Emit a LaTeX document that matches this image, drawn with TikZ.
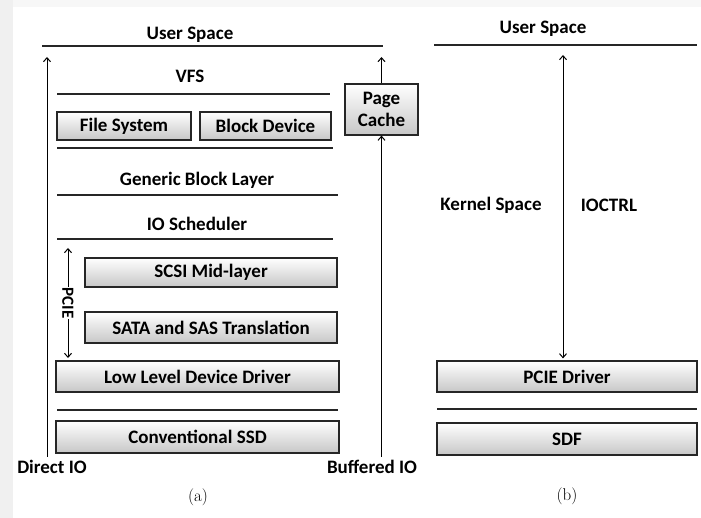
\documentclass[tikz,border=0pt]{standalone}
\usepackage{fontspec}
\setsansfont{Carlito}
\usetikzlibrary{arrows.meta,positioning}

\begin{document}
\begin{tikzpicture}[
  x=1pt,y=-1pt,
  font=\sffamily\bfseries\fontsize{19}{22}\selectfont,
  layer/.style={draw=black!85,line width=1.2pt,top color=white,bottom color=black!22,minimum height=30pt,inner sep=0pt,align=center},
  sep/.style={line width=1.2pt,draw=black!85},
  flow/.style={line width=1pt,-{Straight Barb[length=4pt,width=7pt]}},
  both/.style={line width=1pt,{Straight Barb[length=4pt,width=7pt]}-{Straight Barb[length=4pt,width=7pt]}},
  caption/.style={font=\rmfamily\fontsize{17}{20}\selectfont}
]
  \useasboundingbox (0,0) rectangle (701,518);
  \fill[black!6] (0,0) rectangle (13,518);
  \fill[black!3] (13,0) rectangle (701,7);

  % (a) conventional stack
  \node (usrA) at (190,35) {User Space};
  \draw[sep] (42,46) -- (383,46);
  \node (vfs) at (190,76) {VFS};
  \draw[sep] (57,94) -- (330,94);
  \node[layer,minimum width=134pt,minimum height=28pt] (fs) at (124,126) {File System};
  \node[layer,minimum width=131pt,minimum height=28pt] (bd) at (265.5,126) {Block Device};
  \node[layer,minimum width=73pt,minimum height=51pt] (pc) at (381.5,109.5) {Page\\Cache};
  \draw[sep] (57,148) -- (333,148);
  \node (gbl) at (197,180) {Generic Block Layer};
  \draw[sep] (57,195) -- (338,195);
  \node (ios) at (197,224) {IO Scheduler};
  \draw[sep] (57,239) -- (333,239);
  \node[layer,minimum width=252pt,minimum height=29pt] (scsi) at (211,272.5) {SCSI Mid-layer};
  \node[layer,minimum width=252pt,minimum height=31pt] (sata) at (211,327.5) {SATA and SAS Translation};
  \node[layer,minimum width=283pt,minimum height=31pt] (lldd) at (197.5,376.5) {Low Level Device Driver};
  \draw[sep] (57,410) -- (338,410);
  \node[layer,minimum width=283pt,minimum height=32pt] (ssd) at (197.5,437) {Conventional SSD};
  \node (dio) at (52,467) {Direct IO};
  \node (bio) at (372,467) {Buffered IO};
  \node[caption] (capA) at (198,497) {(a)};

  \coordinate (tipD) at (47,57);
  \coordinate (tipB) at (383,57);
  \coordinate (pTop) at (68,248);
  \coordinate (pBot) at (68,358);
  \draw[flow] (dio.north -| tipD) -- (tipD);
  \draw[flow] (bio.north -| pc.south) -- (pc.south);
  \draw[flow] (pc.north) -- (pc.north |- tipB);
  \draw[both] (pTop) -- node[fill=white,rotate=-90,inner sep=1pt,font=\sffamily\bfseries\fontsize{17}{19}\selectfont] (pcie) {PCIE} (pBot);

  % (b) SDF stack
  \node (usrB) at (543,29) {User Space};
  \draw[sep] (434,45) -- (697,45);
  \node (kern) at (491,205) {Kernel Space};
  \node (ioctl) at (609,205) {IOCTRL};
  \node[layer,minimum width=260pt,minimum height=31pt] (pdrv) at (567,376.5) {PCIE Driver};
  \draw[sep] (437,409) -- (697,409);
  \node[layer,minimum width=260pt,minimum height=32pt] (sdf) at (567,439) {SDF};
  \node[caption] (capB) at (567,496) {(b)};

  \coordinate (ioTop) at (563,55);
  \draw[both,shorten >=2pt] (ioTop) -- (pdrv.north -| ioTop);
\end{tikzpicture}
\end{document}
